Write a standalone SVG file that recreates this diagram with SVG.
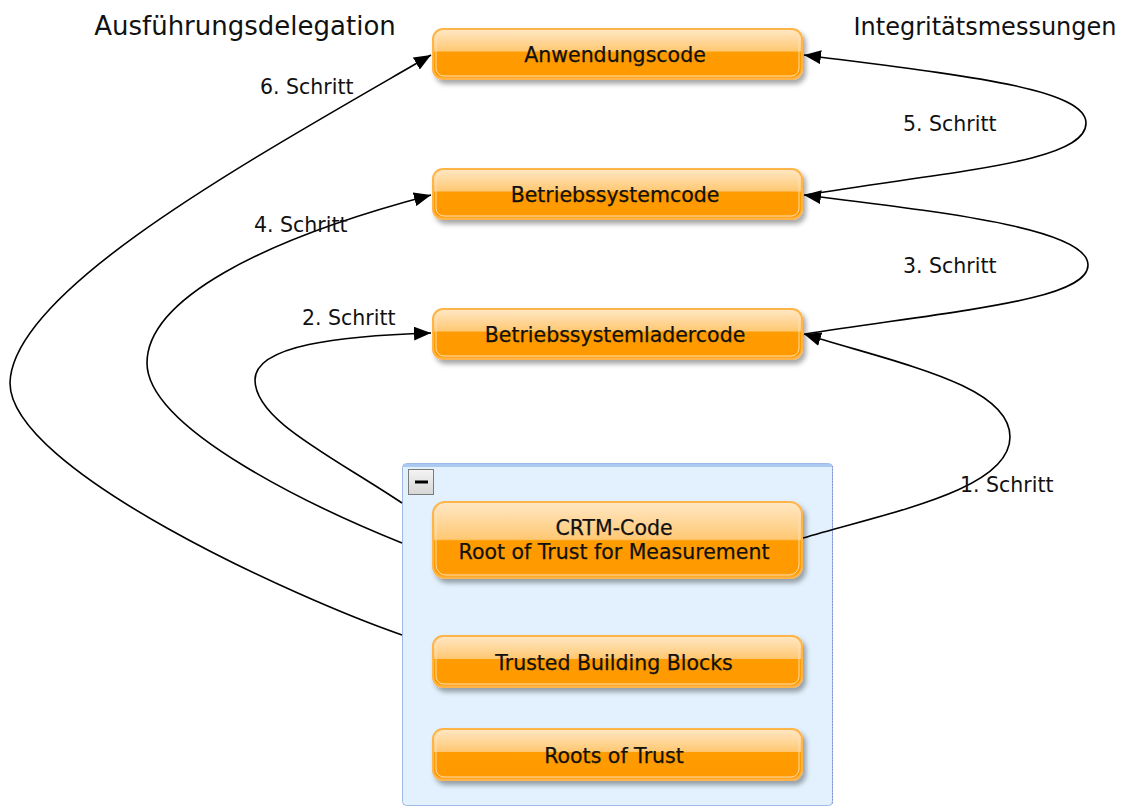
<svg xmlns="http://www.w3.org/2000/svg" width="1137" height="808" viewBox="0 0 1137 808">
  <style>
    .title { font-family: "DejaVu Sans", "Liberation Sans", sans-serif; fill: #111; text-anchor: middle; }
    .label { font-family: "DejaVu Sans", "Liberation Sans", sans-serif; font-size: 20.5px; fill: #111; }
    .ntext { font-family: "DejaVu Sans", "Liberation Sans", sans-serif; font-size: 20.5px; fill: #111; text-anchor: middle; stroke: #111; stroke-width: 0.25; }
    .edge { fill: none; stroke: #000; stroke-width: 1.6; marker-end: url(#arrow); }
    .box { stroke: #ffb44a; stroke-width: 2; filter: url(#shadow); }
    .inner { fill: none; stroke: #ffe2b8; stroke-width: 1; opacity: 0.9; }
  </style>
  <defs>
    <marker id="arrow" markerUnits="userSpaceOnUse" markerWidth="18" markerHeight="14" refX="17" refY="7" orient="auto">
      <path d="M0,0 L17,7 L0,14 Z" fill="#000"/>
    </marker>
    <linearGradient id="btn" x1="0" y1="0" x2="0" y2="1">
      <stop offset="0" stop-color="#ffe8c6"/>
      <stop offset="0.44" stop-color="#ffc873"/>
      <stop offset="0.46" stop-color="#ff9c05"/>
      <stop offset="0.9" stop-color="#ff9900"/>
      <stop offset="1" stop-color="#ffac33"/>
    </linearGradient>
    <linearGradient id="btn2" x1="0" y1="0" x2="0" y2="1">
      <stop offset="0" stop-color="#ffe8c6"/>
      <stop offset="0.49" stop-color="#ffc873"/>
      <stop offset="0.51" stop-color="#ff9c05"/>
      <stop offset="0.92" stop-color="#ff9900"/>
      <stop offset="1" stop-color="#ffac33"/>
    </linearGradient>
    <linearGradient id="minus" x1="0" y1="0" x2="0" y2="1">
      <stop offset="0" stop-color="#f4f4f4"/>
      <stop offset="1" stop-color="#d6d6d6"/>
    </linearGradient>
    <filter id="shadow" x="-10%" y="-30%" width="120%" height="170%">
      <feDropShadow dx="3" dy="4" stdDeviation="2.5" flood-color="#000" flood-opacity="0.35"/>
    </filter>
  </defs>

  <!-- column headings -->
  <text class="title" x="245" y="35" font-size="26">Ausführungsdelegation</text>
  <text class="title" x="985" y="35" font-size="24">Integritätsmessungen</text>

  <!-- group container holding the trust anchors -->
  <g id="trust-group">
    <rect x="402.5" y="463.5" width="430" height="342" rx="4" fill="#e2f1fd" stroke="#9dbbe6" stroke-width="1"/>
    <rect x="403" y="464" width="429" height="3" fill="#a9c9f0"/>
    <line x1="832.5" y1="466" x2="832.5" y2="804" stroke="#8a8ad0" stroke-width="1" stroke-dasharray="1.5,1.5"/>
    <rect x="408.5" y="469.5" width="25" height="25" fill="url(#minus)" stroke="#7a7a7a" stroke-width="1"/>
    <rect x="415" y="480.5" width="13" height="3" fill="#000"/>
  </g>

  <!-- connectors -->
  <g id="connectors">
    <path class="edge" d="M803,538 C890,512 1010,490 1010,437 C1010,385 900,364 804,334"/>
    <path class="edge" d="M402,503 C330,455 255,420 255,380 C255,345 340,336 431,333"/>
    <path class="edge" d="M805,334 C960,310 1088,300 1088,265 C1088,228 940,212 804,195"/>
    <path class="edge" d="M402,543 C320,510 147,430 147,363 C147,300 260,240 431,195"/>
    <path class="edge" d="M805,195 C960,170 1086,162 1086,123 C1086,88 960,75 804,55"/>
    <path class="edge" d="M402,635 C300,600 10,470 10,383 C12,290 250,160 431,55"/>
  </g>

  <!-- connector labels -->
  <g id="edge-labels">
    <text class="label" x="960" y="492">1. Schritt</text>
    <text class="label" x="302" y="325">2. Schritt</text>
    <text class="label" x="903" y="273">3. Schritt</text>
    <text class="label" x="254" y="232">4. Schritt</text>
    <text class="label" x="903" y="131">5. Schritt</text>
    <text class="label" x="260" y="94">6. Schritt</text>
  </g>

  <!-- nodes -->
  <g id="anwendungscode">
    <rect class="box" x="433" y="29" width="369" height="50" rx="10" fill="url(#btn)"/>
    <rect class="inner" x="436" y="32" width="363" height="44" rx="8"/>
    <text class="ntext" x="615" y="62">Anwendungscode</text>
  </g>
  <g id="betriebssystemcode">
    <rect class="box" x="433" y="169" width="369" height="50" rx="10" fill="url(#btn)"/>
    <rect class="inner" x="436" y="172" width="363" height="44" rx="8"/>
    <text class="ntext" x="615" y="202">Betriebssystemcode</text>
  </g>
  <g id="betriebssystemladercode">
    <rect class="box" x="433" y="309" width="369" height="50" rx="10" fill="url(#btn)"/>
    <rect class="inner" x="436" y="312" width="363" height="44" rx="8"/>
    <text class="ntext" x="615" y="342">Betriebssystemladercode</text>
  </g>
  <g id="crtm-code">
    <rect class="box" x="433" y="502" width="369" height="76" rx="12" fill="url(#btn2)"/>
    <rect class="inner" x="436" y="505" width="363" height="70" rx="10"/>
    <text class="ntext" x="614" y="535">CRTM-Code</text>
    <text class="ntext" x="614" y="559">Root of Trust for Measurement</text>
  </g>
  <g id="trusted-building-blocks">
    <rect class="box" x="433" y="636" width="369" height="51" rx="10" fill="url(#btn)"/>
    <rect class="inner" x="436" y="639" width="363" height="45" rx="8"/>
    <text class="ntext" x="614" y="670">Trusted Building Blocks</text>
  </g>
  <g id="roots-of-trust">
    <rect class="box" x="433" y="729" width="369" height="51" rx="10" fill="url(#btn)"/>
    <rect class="inner" x="436" y="732" width="363" height="45" rx="8"/>
    <text class="ntext" x="614" y="763">Roots of Trust</text>
  </g>
</svg>
